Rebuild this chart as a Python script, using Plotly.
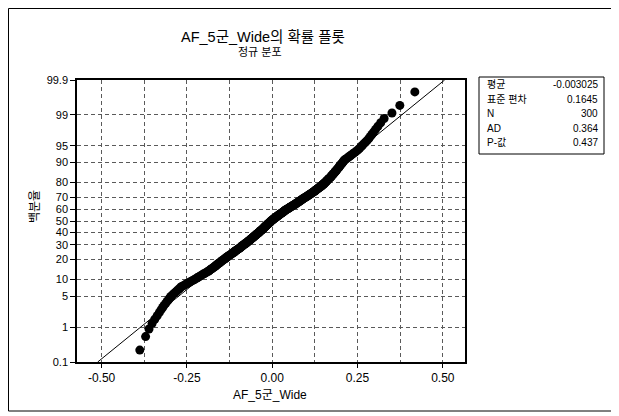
import plotly.graph_objects as go
from statistics import NormalDist

# ---- data (sorted sample values) ----
sample_values = [
    -0.388, -0.371, -0.361, -0.352, -0.344, -0.337, -0.331, -0.326, -0.321, -0.317,
    -0.312, -0.308, -0.304, -0.301, -0.297, -0.293, -0.288, -0.284, -0.280, -0.276,
    -0.272, -0.269, -0.265, -0.259, -0.254, -0.249, -0.244, -0.239, -0.234, -0.229,
    -0.225, -0.221, -0.217, -0.213, -0.209, -0.206, -0.202, -0.198, -0.194, -0.191,
    -0.187, -0.184, -0.182, -0.179, -0.176, -0.174, -0.171, -0.169, -0.166, -0.164,
    -0.162, -0.160, -0.158, -0.155, -0.153, -0.151, -0.149, -0.147, -0.145, -0.142,
    -0.140, -0.138, -0.136, -0.134, -0.132, -0.130, -0.128, -0.126, -0.123, -0.121,
    -0.119, -0.117, -0.115, -0.113, -0.111, -0.110, -0.108, -0.106, -0.104, -0.102,
    -0.100, -0.098, -0.096, -0.094, -0.093, -0.091, -0.089, -0.088, -0.087, -0.085,
    -0.083, -0.081, -0.079, -0.078, -0.076, -0.075, -0.073, -0.071, -0.070, -0.068,
    -0.067, -0.065, -0.064, -0.063, -0.061, -0.060, -0.058, -0.057, -0.055, -0.054,
    -0.053, -0.051, -0.050, -0.048, -0.047, -0.046, -0.044, -0.043, -0.041, -0.040,
    -0.039, -0.038, -0.036, -0.035, -0.034, -0.033, -0.031, -0.030, -0.028, -0.027,
    -0.026, -0.025, -0.024, -0.023, -0.022, -0.020, -0.019, -0.018, -0.017, -0.016,
    -0.015, -0.013, -0.012, -0.011, -0.010, -0.008, -0.007, -0.006, -0.005, -0.004,
    -0.002, -0.001, 0.000, 0.002, 0.003, 0.005, 0.006, 0.007, 0.009, 0.010,
    0.012, 0.013, 0.015, 0.016, 0.018, 0.019, 0.021, 0.022, 0.024, 0.026,
    0.027, 0.029, 0.030, 0.032, 0.033, 0.035, 0.036, 0.038, 0.039, 0.041,
    0.043, 0.045, 0.047, 0.049, 0.051, 0.052, 0.054, 0.056, 0.058, 0.060,
    0.062, 0.064, 0.066, 0.068, 0.069, 0.071, 0.073, 0.075, 0.077, 0.078,
    0.080, 0.082, 0.084, 0.086, 0.087, 0.089, 0.091, 0.093, 0.095, 0.097,
    0.099, 0.101, 0.103, 0.105, 0.107, 0.109, 0.111, 0.113, 0.115, 0.117,
    0.119, 0.121, 0.123, 0.125, 0.127, 0.128, 0.130, 0.132, 0.134, 0.136,
    0.138, 0.140, 0.142, 0.144, 0.146, 0.147, 0.149, 0.151, 0.153, 0.154,
    0.156, 0.157, 0.159, 0.160, 0.162, 0.163, 0.165, 0.167, 0.169, 0.171,
    0.172, 0.174, 0.175, 0.177, 0.179, 0.180, 0.182, 0.184, 0.185, 0.187,
    0.189, 0.190, 0.192, 0.194, 0.196, 0.197, 0.199, 0.201, 0.203, 0.205,
    0.207, 0.209, 0.211, 0.214, 0.218, 0.222, 0.226, 0.230, 0.234, 0.238,
    0.243, 0.248, 0.252, 0.256, 0.260, 0.264, 0.268, 0.273, 0.278, 0.283,
    0.287, 0.292, 0.297, 0.303, 0.310, 0.318, 0.328, 0.351, 0.374, 0.418,
]

fit_mean = -0.003025
fit_sd = 0.1645

percent_ticks = [0.1, 1, 5, 10, 20, 30, 40, 50, 60, 70, 80, 90, 95, 99, 99.9]
percent_labels = ["0.1", "1", "5", "10", "20", "30", "40", "50", "60", "70", "80", "90", "95", "99", "99.9"]
x_ticks = [-0.50, -0.25, 0.00, 0.25, 0.50]
x_tick_labels = ["-0.50", "-0.25", "0.00", "0.25", "0.50"]

stat_labels = ["평균", "표준 편차", "N", "AD", "P-값"]
stat_values = ["-0.003025", "0.1645", "300", "0.364", "0.437"]

title_text = "AF_5군_Wide의 확률 플롯"
subtitle_text = "정규 분포"
x_title = "AF_5군_Wide"
y_title = "백분율"

# ---- probability scale transform ----
nd = NormalDist()
n = len(sample_values)
z_points = [nd.inv_cdf((i - 0.3) / (n + 0.4)) for i in range(1, n + 1)]
z_ticks = [nd.inv_cdf(p / 100.0) for p in percent_ticks]
z_lo, z_hi = z_ticks[0], z_ticks[-1]

FONT = "Liberation Sans, Arial, Noto Sans CJK KR, sans-serif"

fig = go.Figure()

fig.add_trace(go.Scatter(
    x=[fit_mean + fit_sd * z_lo, fit_mean + fit_sd * z_hi],
    y=[z_lo, z_hi],
    mode="lines",
    line=dict(color="black", width=1),
    hoverinfo="skip",
    showlegend=False,
))

fig.add_trace(go.Scatter(
    x=sample_values,
    y=z_points,
    mode="markers",
    marker=dict(color="black", size=9, line=dict(width=0)),
    showlegend=False,
))

# page body adds an 8px offset; layout below is in window pixels minus that offset
OFF = 8
W, H = 619 - OFF, 416 - OFF
PL, PR, PT, PB = 77, 465, 80, 362          # plot area in window pixels
L, T = PL - OFF, PT - OFF
R, B = W - (PR - OFF), H - (PB - OFF)
pw, ph = W - L - R, H - T - B


def px(xp):
    return (xp - PL) / pw


def py(yp):
    return (PB - yp) / ph


grid_color = "#5a5a5a"

fig.update_layout(
    width=W, height=H,
    margin=dict(l=L, r=R, t=T, b=B, pad=0),
    paper_bgcolor="white",
    plot_bgcolor="white",
    font=dict(family=FONT, color="black", size=11),
    xaxis=dict(
        range=[-0.572, 0.565],
        tickvals=x_ticks, ticktext=x_tick_labels,
        tickfont=dict(size=12, family=FONT, color="black"),
        ticks="outside", ticklen=4, tickcolor="black",
        showgrid=True, gridcolor=grid_color, griddash="4px,3px", gridwidth=1,
        minor=dict(tick0=-0.5, dtick=0.125, showgrid=True, gridcolor=grid_color,
                   griddash="4px,3px", gridwidth=1, ticks=""),
        showline=True, linecolor="black", linewidth=1.5, mirror=True,
        zeroline=False,
    ),
    yaxis=dict(
        range=[z_lo, z_hi],
        tickvals=z_ticks, ticktext=percent_labels,
        tickfont=dict(size=11, family=FONT, color="black"),
        ticks="outside", ticklen=5, tickcolor="black",
        showgrid=True, gridcolor=grid_color, griddash="4px,3px", gridwidth=1,
        showline=True, linecolor="black", linewidth=1.5, mirror=True,
        zeroline=False,
    ),
)

annotations = [
    dict(text=title_text, x=px(263), y=py(37), xref="paper", yref="paper",
         showarrow=False, font=dict(size=14.5, family=FONT, color="black"),
         xanchor="center", yanchor="middle"),
    dict(text=subtitle_text, x=px(260), y=py(52), xref="paper", yref="paper",
         showarrow=False, font=dict(size=11, family=FONT, color="black"),
         xanchor="center", yanchor="middle"),
    dict(text=x_title, x=px(270), y=py(395), xref="paper", yref="paper",
         showarrow=False, font=dict(size=12, family=FONT, color="black"),
         xanchor="center", yanchor="middle"),
    dict(text=y_title, x=px(35), y=py(207), xref="paper", yref="paper",
         showarrow=False, textangle=-90, font=dict(size=12, family=FONT, color="black"),
         xanchor="center", yanchor="middle"),
]

row_y = [85, 99.5, 114, 128, 142]
for lab, val, ry in zip(stat_labels, stat_values, row_y):
    annotations.append(dict(text=lab, x=px(485), y=py(ry), xref="paper", yref="paper",
                            showarrow=False, font=dict(size=10, family=FONT, color="black"),
                            xanchor="left", yanchor="middle"))
    annotations.append(dict(text=val, x=px(600), y=py(ry), xref="paper", yref="paper",
                            showarrow=False, font=dict(size=10, family=FONT, color="black"),
                            xanchor="right", yanchor="middle"))

fig.update_layout(annotations=annotations)

fig.update_layout(shapes=[
    dict(type="rect", xref="paper", yref="paper",
         x0=px(479), x1=px(604), y0=py(154), y1=py(77),
         line=dict(color="black", width=1), fillcolor="rgba(0,0,0,0)"),
    dict(type="rect", xref="paper", yref="paper",
         x0=px(8.5), x1=px(614), y0=py(411), y1=py(8.5),
         line=dict(color="black", width=1), fillcolor="rgba(0,0,0,0)"),
])

fig.write_html("out.html")
